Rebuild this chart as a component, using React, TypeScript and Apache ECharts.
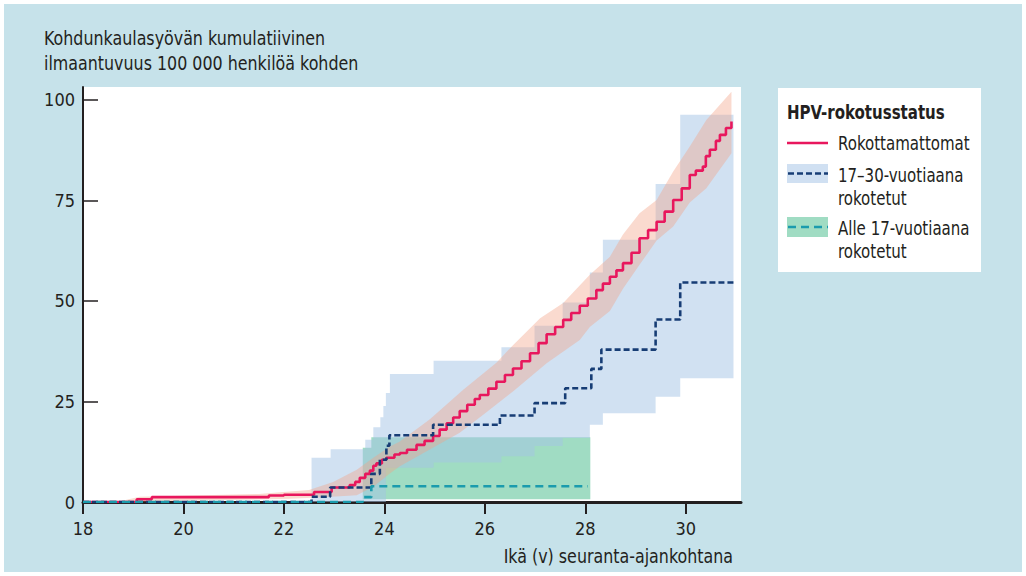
import React, { useEffect, useRef } from "react";
import * as echarts from "echarts";

// ---------- data ----------
const xTicks = [18, 20, 22, 24, 26, 28, 30];
const yTicks = [0, 25, 50, 75, 100];

const titleLines = ["Kohdunkaulasyövän kumulatiivinen", "ilmaantuvuus 100 000 henkilöä kohden"];
const xAxisTitle = "Ikä (v) seuranta-ajankohtana";
const legendTitle = "HPV-rokotusstatus";
const legendLabels = [["Rokottamattomat"], ["17–30-vuotiaana", "rokotetut"], ["Alle 17-vuotiaana", "rokotetut"]];

// Rokottamattomat: cumulative incidence (step) [age, value]
const unvaccinated = [
  [18, 0], [19.07, 0.7], [19.37, 1.2], [21.7, 1.6], [22.0, 1.8], [22.6, 2.5], [22.95, 3.6],
  [23.31, 4.2], [23.42, 5.0], [23.51, 6.0], [23.62, 7.0], [23.71, 7.8], [23.78, 9.0], [23.84, 9.6],
  [23.95, 10.5], [24.04, 11.0], [24.2, 11.8], [24.31, 12.2], [24.45, 13.0], [24.64, 14.2],
  [24.8, 15.2], [24.97, 16.4], [25.1, 18.0], [25.24, 19.6], [25.37, 21.0], [25.5, 22.6],
  [25.65, 24.2], [25.8, 25.6], [25.9, 26.6], [26.07, 28.2], [26.23, 29.9], [26.4, 31.6],
  [26.56, 33.2], [26.73, 35.0], [26.9, 37.0], [27.07, 39.5], [27.23, 41.7], [27.4, 43.5],
  [27.56, 45.3], [27.72, 47.0], [27.89, 48.8], [28.05, 50.6], [28.22, 52.7], [28.35, 54.3],
  [28.49, 56.0], [28.62, 57.6], [28.75, 59.4], [28.92, 62.0], [29.08, 65.6], [29.25, 67.6],
  [29.42, 69.7], [29.58, 72.2], [29.75, 75.1], [29.92, 78.0], [30.08, 81.3], [30.2, 82.4],
  [30.34, 83.4], [30.4, 86.0], [30.48, 87.6], [30.6, 89.8], [30.68, 91.3], [30.8, 93.0],
  [30.91, 94.6],
];
const unvaccinatedUpper = [
  [18.67, 0], [19.13, 1.3], [21.5, 2.0], [22.12, 2.6], [22.5, 3.0], [22.98, 5.0], [23.45, 8.0],
  [23.78, 11.0], [24.11, 13.8], [24.3, 15.0], [24.9, 20.5], [25.57, 27.9], [26.23, 34.6],
  [26.56, 39.0], [27.1, 45.7], [27.56, 49.5], [28.09, 56.5], [28.49, 61.0], [28.75, 66.5],
  [29.08, 71.8], [29.42, 75.1], [29.75, 82.2], [30.08, 88.4], [30.41, 95.0], [30.91, 102.0],
];
const unvaccinatedLower = [
  [18.67, 0], [22.12, 0.8], [22.78, 1.2], [23.45, 1.7], [23.78, 3.8], [24.11, 7.1], [24.3, 8.8],
  [25.5, 17.2], [26.0, 22.0], [26.56, 27.5], [27.23, 34.5], [27.89, 40.3], [28.09, 43.5],
  [28.49, 47.5], [28.75, 53.0], [29.08, 59.0], [29.42, 65.0], [29.75, 68.5], [30.08, 74.5],
  [30.41, 78.0], [30.91, 86.7],
];

// 17–30-vuotiaana rokotetut (step) [age, value]
const vacc1730 = [
  [18, 0], [22.55, 1.3], [22.92, 3.6], [23.74, 7.0], [23.91, 10.5], [24.04, 14.0], [24.1, 16.6],
  [24.97, 19.2], [26.3, 21.5], [26.99, 24.6], [27.6, 28.3], [28.12, 33.1], [28.32, 37.9],
  [29.4, 45.4], [29.89, 54.6], [30.95, 54.6],
];
// confidence band steps [start age, lower, upper]
const vacc1730CI = [
  [22.55, 0, 11.0], [22.93, 0, 13.1], [23.62, 0, 15.5], [23.78, 0, 18.6], [23.92, 0, 21.1],
  [23.98, 0, 23.9], [24.03, 8.5, 27.1], [24.11, 8.5, 31.8], [24.98, 9.8, 35.1],
  [26.33, 11.4, 38.5], [26.99, 13.9, 43.8], [27.55, 15.9, 49.6], [28.09, 19.2, 57.1],
  [28.35, 22.1, 65.2], [29.4, 26.2, 79.1], [29.89, 30.8, 96.3],
];
const vacc1730CIEnd = 30.95;

// Alle 17-vuotiaana rokotetut (step)
const vaccUnder17 = [[18, 0], [23.57, 1.2], [23.74, 3.9], [28.05, 3.9]];
const vaccUnder17CI = [[23.57, 0.7, 13.5], [23.74, 0.7, 16.1]];
const vaccUnder17CIEnd = 28.1;

// ---------- styling ----------
const FONT = "'Liberation Sans Narrow','DejaVu Sans Condensed','Roboto Condensed','Noto Sans',sans-serif";
const TXT = "#231f20";
const RED = "#e8175d";
const NAVY = "#173d75";
const TEAL = "#1b9bad";
const BLUE_BAND = "rgba(163,196,230,0.5)";
const GREEN_BAND = "rgba(120,205,170,0.7)";
const PEACH_BAND = "rgba(242,162,136,0.4)";

function smoothBand(upper: number[][], lower: number[][]) {
  return upper.concat(lower.slice().reverse());
}
function stepBand(steps: number[][], end: number) {
  const up: number[][] = [];
  const lo: number[][] = [];
  steps.forEach((s, i) => {
    const x1 = i + 1 < steps.length ? steps[i + 1][0] : end;
    up.push([s[0], s[2]], [x1, s[2]]);
    lo.push([s[0], s[1]], [x1, s[1]]);
  });
  return up.concat(lo.reverse());
}
function bandSeries(poly: number[][], color: string, z: number) {
  return {
    type: "custom",
    coordinateSystem: "cartesian2d",
    silent: true,
    z,
    clip: true,
    data: [[poly[0][0], poly[0][1]]],
    renderItem: (_p: any, api: any) => ({
      type: "polygon",
      shape: { points: poly.map((p) => api.coord(p)) },
      style: { fill: color },
    }),
  };
}
function lineSeries(name: string, data: number[][], color: string, type: any, z: number) {
  return {
    name,
    type: "line",
    step: "end",
    data,
    symbol: "none",
    showSymbol: false,
    z,
    lineStyle: { color, width: 2.6, type },
  };
}

function text(x: number, y: number, t: string, sx: number, extra: any = {}) {
  return {
    type: "text",
    x,
    y,
    scaleX: sx,
    silent: true,
    style: {
      text: t,
      fontSize: 19,
      fontFamily: FONT,
      fill: TXT,
      verticalAlign: "middle",
      ...extra,
    },
  };
}

export default function App() {
  const ref = useRef<HTMLDivElement>(null);
  useEffect(() => {
    if (!ref.current) return;
    const chart = echarts.init(ref.current, null, { renderer: "svg" });
    const option: any = {
      animation: false,
      backgroundColor: "#ffffff",
      grid: {
        left: 83, top: 87, width: 658, height: 415,
        show: true, backgroundColor: "#ffffff", borderWidth: 0,
      },
      xAxis: {
        type: "value", min: 18, max: 31.1, interval: 2,
        axisLine: { show: true, onZero: false, lineStyle: { color: TXT, width: 3 } },
        axisTick: { show: true, length: 12, lineStyle: { color: TXT, width: 2 }, customValues: xTicks },
        axisLabel: { customValues: xTicks, fontSize: 18, fontFamily: FONT, color: TXT, margin: 17 },
        splitLine: { show: false },
      },
      yAxis: {
        type: "value", min: 0, max: 103.2, interval: 25,
        axisLine: { show: true, onZero: false, lineStyle: { color: TXT, width: 2 } },
        axisTick: { show: true, inside: true, length: 15, lineStyle: { color: TXT, width: 1.5 }, customValues: yTicks },
        axisLabel: { customValues: yTicks, fontSize: 18, fontFamily: FONT, color: TXT, margin: 8 },
        splitLine: { show: false },
      },
      series: [
        bandSeries(stepBand(vaccUnder17CI, vaccUnder17CIEnd), GREEN_BAND, 1),
        bandSeries(stepBand(vacc1730CI, vacc1730CIEnd), BLUE_BAND, 1),
        bandSeries(smoothBand(unvaccinatedUpper, unvaccinatedLower), PEACH_BAND, 1),
        lineSeries(legendLabels[0].join(" "), unvaccinated, RED, "solid", 3),
        lineSeries(legendLabels[1].join(" "), vacc1730, NAVY, [6, 3], 4),
        lineSeries(legendLabels[2].join(" "), vaccUnder17, TEAL, [8, 5], 5),
      ],
      graphic: [
        { type: "rect", z: -100, silent: true, shape: { x: 4, y: 4, width: 1018, height: 568 }, style: { fill: "#c6e2ea" } },
        text(44, 38, titleLines[0], 0.93),
        text(44, 63, titleLines[1], 0.93),
        text(733, 556, xAxisTitle, 0.93, { align: "right" }),
        { type: "rect", silent: true, shape: { x: 778, y: 88, width: 203, height: 184 }, style: { fill: "#ffffff" } },
        text(787, 112, legendTitle, 0.88, { fontWeight: "bold" }),
        { type: "line", silent: true, shape: { x1: 787, y1: 143, x2: 828, y2: 143 }, style: { stroke: RED, lineWidth: 2.6 } },
        text(838, 143, legendLabels[0][0], 0.88),
        { type: "rect", silent: true, shape: { x: 787, y: 164, width: 41, height: 19 }, style: { fill: "#d0e0f2" } },
        { type: "line", silent: true, shape: { x1: 788, y1: 173.5, x2: 828, y2: 173.5 }, style: { stroke: NAVY, lineWidth: 2.6, lineDash: [6, 3] } },
        text(838, 175, legendLabels[1][0], 0.88),
        text(838, 198, legendLabels[1][1], 0.88),
        { type: "rect", silent: true, shape: { x: 787, y: 217, width: 41, height: 20 }, style: { fill: "#a0dcc3" } },
        { type: "line", silent: true, shape: { x1: 788, y1: 227, x2: 828, y2: 227 }, style: { stroke: TEAL, lineWidth: 2.6, lineDash: [8, 5] } },
        text(838, 228, legendLabels[2][0], 0.88),
        text(838, 251, legendLabels[2][1], 0.88),
      ],
    };
    chart.setOption(option);
    return () => chart.dispose();
  }, []);
  return (
    <div
      ref={ref}
      style={{ position: "absolute", left: 0, top: 0, width: 1026, height: 576 }}
    />
  );
}
